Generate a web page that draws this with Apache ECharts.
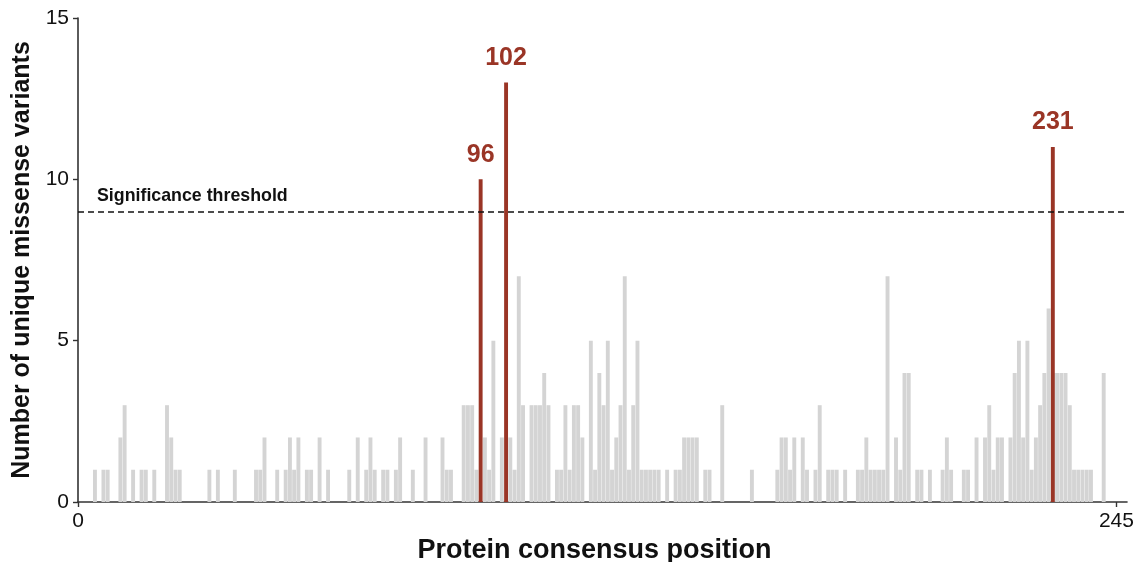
<!DOCTYPE html>
<html>
<head>
<meta charset="utf-8">
<script src="https://cdn.jsdelivr.net/npm/echarts@6/dist/echarts.min.js"></script>
<style>
  html, body { margin: 0; padding: 0; background: #fff; }
  #chart { width: 1140px; height: 562px; }
</style>
</head>
<body>
<div id="chart"></div>
<script>
// gray bars: [axis position, number of unique missense variants]
const variantCounts = [
  [4, 1], [6, 1], [7, 1], [10, 2], [11, 3], [13, 1], [15, 1], [16, 1], [18, 1],
  [21, 3], [22, 2], [23, 1], [24, 1], [31, 1], [33, 1], [37, 1], [42, 1], [43, 1],
  [44, 2], [47, 1], [49, 1], [50, 2], [51, 1], [52, 2], [54, 1], [55, 1], [57, 2],
  [59, 1], [64, 1], [66, 2], [68, 1], [69, 2], [70, 1], [72, 1], [73, 1], [75, 1],
  [76, 2], [79, 1], [82, 2], [86, 2], [87, 1], [88, 1], [91, 3], [92, 3], [93, 3],
  [94, 1], [96, 2], [97, 1], [98, 5], [100, 2], [102, 2], [103, 1], [104, 7],
  [105, 3], [107, 3], [108, 3], [109, 3], [110, 4], [111, 3], [113, 1], [114, 1],
  [115, 3], [116, 1], [117, 3], [118, 3], [119, 2], [121, 5], [122, 1], [123, 4],
  [124, 3], [125, 5], [126, 1], [127, 2], [128, 3], [129, 7], [130, 1], [131, 3],
  [132, 5], [133, 1], [134, 1], [135, 1], [136, 1], [137, 1], [139, 1], [141, 1],
  [142, 1], [143, 2], [144, 2], [145, 2], [146, 2], [148, 1], [149, 1], [152, 3],
  [159, 1], [165, 1], [166, 2], [167, 2], [168, 1], [169, 2], [171, 2], [172, 1],
  [174, 1], [175, 3], [177, 1], [178, 1], [179, 1], [181, 1], [184, 1], [185, 1],
  [186, 2], [187, 1], [188, 1], [189, 1], [190, 1], [191, 7], [193, 2], [194, 1],
  [195, 4], [196, 4], [198, 1], [199, 1], [201, 1], [204, 1], [205, 2], [206, 1],
  [209, 1], [210, 1], [212, 2], [214, 2], [215, 3], [216, 1], [217, 2], [218, 2],
  [220, 2], [221, 4], [222, 5], [223, 2], [224, 5], [225, 1], [226, 2], [227, 3],
  [228, 4], [229, 6], [230, 4], [231, 4], [232, 4], [233, 4], [234, 3], [235, 1],
  [236, 1], [237, 1], [238, 1], [239, 1], [242, 4]
];

// hotspots above the threshold
const hotspotPos = [95, 101, 230];
const hotspotCounts = [10, 13, 11];
const hotspotLabels = ['96', '102', '231'];

const threshold = 9;
const xTicks = [0, 245];
const yTicks = [0, 5, 10, 15];

const RED = '#9a3526';
const FONT = "'Liberation Sans', Arial, sans-serif";

const chart = echarts.init(document.getElementById('chart'), null, { renderer: 'canvas' });

const option = {
  animation: false,
  backgroundColor: '#fff',
  grid: { left: 78, right: 13, top: 18, bottom: 60, outerBoundsMode: 'none', containLabel: false },
  xAxis: {
    type: 'value',
    min: 0,
    max: 247.5,
    name: 'Protein consensus position',
    nameLocation: 'middle',
    nameGap: 34,
    nameTextStyle: {
      fontFamily: FONT, fontSize: 27, fontWeight: 'bold', color: '#111',
      padding: [0, 16, 0, 0]
    },
    splitLine: { show: false },
    axisLine: { lineStyle: { color: '#333', width: 1.6 } },
    axisTick: { customValues: xTicks, length: 5, lineStyle: { color: '#333', width: 1.4 } },
    axisLabel: { customValues: xTicks, margin: 9, fontFamily: FONT, fontSize: 21, color: '#111' }
  },
  yAxis: {
    type: 'value',
    min: 0,
    max: 15,
    interval: 5,
    name: 'Number of unique missense variants',
    nameLocation: 'middle',
    nameGap: 42,
    nameTextStyle: { fontFamily: FONT, fontSize: 25, fontWeight: 'bold', color: '#111' },
    splitLine: { show: false },
    axisLine: { show: true, lineStyle: { color: '#333', width: 1.6 } },
    axisTick: { show: true, length: 5, lineStyle: { color: '#333', width: 1.4 } },
    axisLabel: {
      margin: 9, fontFamily: FONT, fontSize: 21, color: '#111',
      formatter: (v) => (yTicks.indexOf(v) >= 0 ? String(v) : '')
    }
  },
  series: [
    {
      name: 'variants',
      type: 'bar',
      barWidth: 3.9,
      itemStyle: { color: '#d4d4d4' },
      data: variantCounts,
      markLine: {
        silent: true,
        symbol: 'none',
        lineStyle: { color: '#111', type: [6, 4], width: 1.6 },
        label: {
          show: true,
          position: 'insideStartTop',
          formatter: 'Significance threshold',
          distance: [19, 6],
          fontFamily: FONT,
          fontSize: 17.8,
          fontWeight: 'bold',
          color: '#111'
        },
        data: [{ yAxis: threshold }]
      }
    },
    {
      name: 'hotspots',
      type: 'bar',
      barWidth: 3.9,
      barGap: '-100%',
      itemStyle: { color: RED },
      label: {
        show: true,
        position: 'top',
        distance: 12,
        fontFamily: FONT,
        fontSize: 25,
        fontWeight: 'bold',
        color: RED,
        formatter: (p) => hotspotLabels[p.dataIndex]
      },
      data: hotspotPos.map((x, i) => [x, hotspotCounts[i]])
    }
  ]
};

chart.setOption(option);
</script>
</body>
</html>
